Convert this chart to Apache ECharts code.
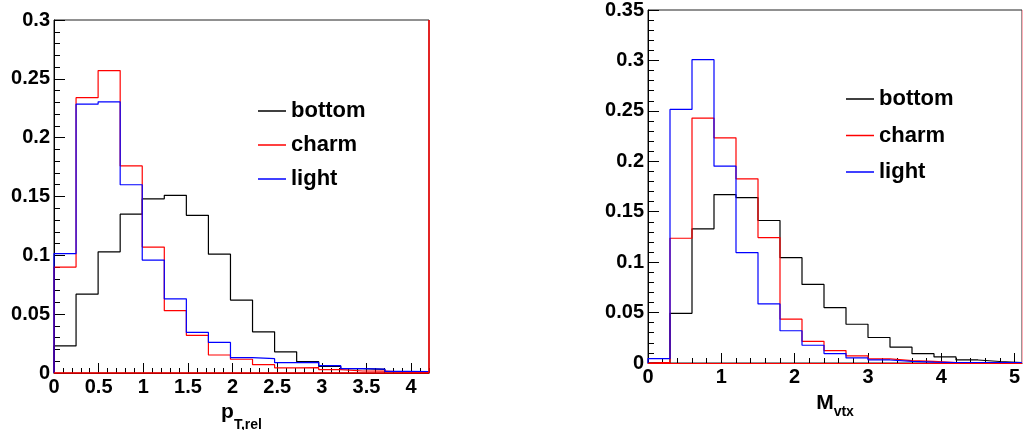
<!DOCTYPE html>
<html>
<head>
<meta charset="utf-8">
<script src="https://cdn.jsdelivr.net/npm/echarts@6/dist/echarts.min.js"></script>
<style>
html,body{margin:0;padding:0;background:#fff;}
#chart{width:1023px;height:430px;}
</style>
</head>
<body>
<div id="chart"></div>
<script>
// ---- data ----
var seriesNames = ['bottom', 'charm', 'light'];

// left panel: p_T,rel, 17 bins from 0 to 4.2
var ptrelMax = 4.2;
var ptrelBins = 17;
var ptrelBottom = [0.023, 0.067, 0.103, 0.135, 0.148, 0.151, 0.134, 0.101, 0.062, 0.035, 0.018, 0.0096, 0.0056, 0.0038, 0.003, 0.0012, 0.0006];
var ptrelCharm  = [0.090, 0.234, 0.257, 0.176, 0.107, 0.053, 0.032, 0.0153, 0.0117, 0.0071, 0.0044, 0.0045, 0.0028, 0.0017, 0.0016, 0.0007, 0.0005];
var ptrelLight  = [0.1015, 0.2285, 0.2305, 0.160, 0.096, 0.063, 0.0345, 0.026, 0.013, 0.0122, 0.0088, 0.009, 0.0062, 0.0037, 0.0033, 0.0013, 0.0011];

// right panel: M_vtx, 17 bins from 0 to 5.1
var mvtxMax = 5.1;
var mvtxBins = 17;
var mvtxBottom = [0.0003, 0.0493, 0.133, 0.167, 0.164, 0.1413, 0.1044, 0.0779, 0.055, 0.0384, 0.0253, 0.0157, 0.0092, 0.006, 0.003, 0.0015, 0.0005];
var mvtxCharm  = [0.0007, 0.1237, 0.2428, 0.2233, 0.1826, 0.1244, 0.0435, 0.0215, 0.0123, 0.0071, 0.004, 0.0024, 0.0017, 0.0005, 0.0003, 0.0002, 0.0002];
var mvtxLight  = [0.0044, 0.2514, 0.3007, 0.1952, 0.1095, 0.0586, 0.032, 0.0176, 0.0093, 0.005, 0.003, 0.0017, 0.0008, 0.0004, 0.0004, 0.0003, 0.0003];

// ---- helpers ----
var FONT = '"Liberation Sans", Arial, Helvetica, sans-serif';
var colors = {bottom: '#000000', charm: '#ff0000', light: '#0000ff'};

function histData(xmax, nbins, vals) {
  var w = xmax / nbins;
  var d = [[0, 0]];
  for (var i = 0; i < nbins; i++) d.push([i * w, vals[i]]);
  d.push([xmax, vals[nbins - 1]]);
  d.push([xmax, 0]);
  return d;
}

function makeXAxes(gridIndex, max, majorInterval, minorInterval, name, nameGap, subName, subPad) {
  return [{
    type: 'value', gridIndex: gridIndex, min: 0, max: max, interval: majorInterval,
    position: 'bottom',
    axisLine: {show: true, onZero: false, lineStyle: {color: '#000', width: 1}},
    axisTick: {show: true, inside: true, length: 10, lineStyle: {color: '#000', width: 1}},
    axisLabel: {show: true, margin: 4, showMaxLabel: false, color: '#000', fontSize: 20, fontWeight: 'bold', fontFamily: FONT,
      formatter: function (v) { return String(+v.toFixed(2)); }},
    splitLine: {show: false},
    name: '{a|' + name + '}{b|' + subName + '}',
    nameLocation: 'middle', nameGap: nameGap,
    nameTextStyle: {
      color: '#000', fontFamily: FONT, fontWeight: 'bold',
      rich: {
        a: {fontSize: 21, lineHeight: 24, fontWeight: 'bold', fontFamily: FONT, color: '#000', verticalAlign: 'top'},
        b: {fontSize: 14, lineHeight: 14, padding: [subPad, 0, 0, 0], fontWeight: 'bold', fontFamily: FONT, color: '#000', verticalAlign: 'top'}
      }
    }
  }, {
    type: 'value', gridIndex: gridIndex, min: 0, max: max, interval: minorInterval,
    position: 'bottom',
    axisLine: {show: false},
    axisTick: {show: true, inside: true, length: 5, lineStyle: {color: '#000', width: 1}},
    axisLabel: {show: false},
    splitLine: {show: false}
  }];
}

function makeYAxis(gridIndex, max) {
  return {
    type: 'value', gridIndex: gridIndex, min: 0, max: max, interval: 0.05,
    axisLine: {show: true, onZero: false, lineStyle: {color: '#000', width: 1}},
    axisTick: {show: true, inside: true, length: 11, lineStyle: {color: '#000', width: 1}},
    minorTick: {show: true, splitNumber: 5, length: 6, lineStyle: {color: '#000', width: 1}},
    minorSplitLine: {show: false},
    axisLabel: {show: true, margin: 4, color: '#000', fontSize: 20, fontWeight: 'bold', fontFamily: FONT,
      formatter: function (v) { return String(+v.toFixed(3)); }},
    splitLine: {show: false}
  };
}

function histSeries(name, xIdx, yIdx, xmax, nbins, vals, extra) {
  var s = {
    name: name, type: 'line', step: 'end', xAxisIndex: xIdx, yAxisIndex: yIdx,
    data: histData(xmax, nbins, vals), symbol: 'none', showSymbol: false,
    lineStyle: {color: colors[name], width: 1.2}, itemStyle: {color: colors[name]},
    animation: false, z: 3
  };
  if (extra) s.markLine = extra;
  return s;
}

var legendText = {fontSize: 22, fontWeight: 'bold', fontFamily: FONT, color: '#000', lineHeight: 22};

var xAxesLeft = makeXAxes(0, ptrelMax, 0.5, 0.1, 'p', 19, 'T,rel', 16);
var xAxesRight = makeXAxes(1, mvtxMax, 1, 0.2, 'M', 30, 'vtx', 12);

var option = {
  animation: false,
  backgroundColor: '#fff',
  grid: [
    {left: 54, top: 20, width: 375, height: 353, show: true, borderColor: '#222', borderWidth: 1, backgroundColor: 'transparent', outerBoundsMode: 'none', containLabel: false},
    {left: 648, top: 10, width: 374, height: 353, show: true, borderColor: '#222', borderWidth: 1, backgroundColor: 'transparent', outerBoundsMode: 'none', containLabel: false}
  ],
  legend: [
    {data: seriesNames, orient: 'vertical', left: 258, top: 100, padding: 0, icon: 'rect', itemWidth: 28, itemHeight: 1.5, itemGap: 12, textStyle: legendText, selectedMode: false},
    {data: seriesNames, orient: 'vertical', left: 846, top: 88, padding: 0, icon: 'rect', itemWidth: 28, itemHeight: 1.5, itemGap: 14.5, textStyle: legendText, selectedMode: false}
  ],
  xAxis: [xAxesLeft[0], xAxesLeft[1], xAxesRight[0], xAxesRight[1]],
  yAxis: [makeYAxis(0, 0.3), makeYAxis(1, 0.35)],
  series: [
    histSeries('bottom', 0, 0, ptrelMax, ptrelBins, ptrelBottom),
    histSeries('charm', 0, 0, ptrelMax, ptrelBins, ptrelCharm, {
      silent: true, symbol: 'none', label: {show: false}, animation: false,
      lineStyle: {color: '#ff0000', type: 'solid', width: 1.5},
      data: [{xAxis: ptrelMax}, {yAxis: 0}]
    }),
    histSeries('light', 0, 0, ptrelMax, ptrelBins, ptrelLight),
    histSeries('bottom', 2, 1, mvtxMax, mvtxBins, mvtxBottom),
    histSeries('charm', 2, 1, mvtxMax, mvtxBins, mvtxCharm, {
      silent: true, symbol: 'none', label: {show: false}, animation: false,
      data: [
        {xAxis: mvtxMax, lineStyle: {color: '#ffb0b8', type: 'solid', width: 1.2}},
        {yAxis: 0, lineStyle: {color: '#ff0000', type: 'solid', width: 1.2}}
      ]
    }),
    histSeries('light', 2, 1, mvtxMax, mvtxBins, mvtxLight)
  ]
};

var chart = echarts.init(document.getElementById('chart'), null, {renderer: 'canvas'});
chart.setOption(option);
</script>
</body>
</html>
